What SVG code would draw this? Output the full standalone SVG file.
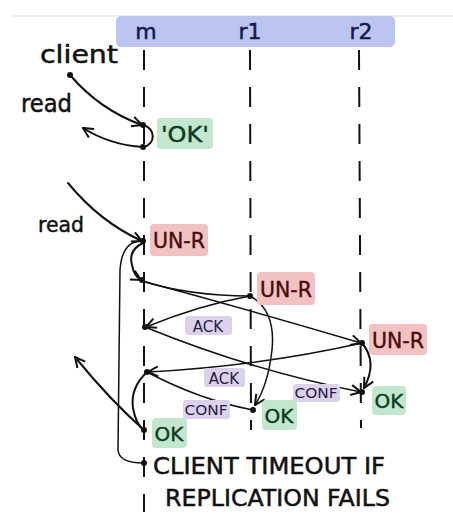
<svg xmlns="http://www.w3.org/2000/svg" width="453" height="524" viewBox="0 0 453 524">
<style>
.t{font-family:"DejaVu Sans","Liberation Sans",sans-serif;fill:#111;stroke:#111;stroke-width:0.5}
.lbl{font-family:"DejaVu Sans","Liberation Sans",sans-serif;text-anchor:middle}
.life{stroke:#111;stroke-width:2;stroke-dasharray:20 17;fill:none}
.c{fill:none;stroke:#111;stroke-width:2;stroke-linecap:round}
.thin{fill:none;stroke:#111;stroke-width:1.5;stroke-linecap:round}
.dot{fill:#111}
.g{fill:#c3e6cf}.gt{fill:#0c3b1e;stroke:#0c3b1e;stroke-width:0.4}
.r{fill:#f2c2c2}.rt{fill:#4a0b0b;stroke:#4a0b0b;stroke-width:0.4}
.p{fill:#dcd1ea}.pt{fill:#2a1c48}
</style>
<defs>
<marker id="ah" viewBox="0 0 12 12" refX="11" refY="6" markerWidth="12" markerHeight="12" markerUnits="userSpaceOnUse" orient="auto">
<path d="M1,1 L11,6 L1,11" fill="none" stroke="#111" stroke-width="2"/>
</marker>
</defs>
<line x1="13" y1="16" x2="453" y2="16" stroke="#ddd" stroke-width="1"/>
<g id="header">
<rect x="116" y="16" width="279" height="31" rx="5" fill="#bcc5ef"/>
<text class="lbl" x="146" y="39" font-size="22" fill="#141a50" stroke="#141a50" stroke-width="0.5">m</text>
<text class="lbl" x="250" y="39" font-size="22" fill="#141a50" stroke="#141a50" stroke-width="0.5">r1</text>
<text class="lbl" x="361" y="39" font-size="22" fill="#141a50" stroke="#141a50" stroke-width="0.5">r2</text>
</g>
<g id="lifelines">
<line class="life" x1="144" y1="50" x2="144" y2="512"/>
<line class="life" x1="250" y1="50" x2="251" y2="430"/>
<line class="life" x1="359" y1="50" x2="361" y2="428"/>
</g>
<g id="client"><text class="t" x="40" y="63" font-size="24" textLength="78" lengthAdjust="spacingAndGlyphs">client</text></g>
<g id="read1"><text class="t" x="21" y="112" font-size="24" textLength="51" lengthAdjust="spacingAndGlyphs">read</text></g>
<g id="read2"><text class="t" x="38" y="232" font-size="22" textLength="46" lengthAdjust="spacingAndGlyphs">read</text></g>
<g id="connectors">
<path class="c" d="M70,75 Q100,110 142,125" marker-end="url(#ah)"/>
<path class="c" d="M143,125 C156,128 156,145 143,147"/>
<path class="c" d="M143,147 Q110,145 83,128" marker-end="url(#ah)"/>
<path class="c" d="M68,183 Q100,222 142,241" marker-end="url(#ah)"/>
<path class="c" d="M143,243 Q128,250 132,265 Q134,276 141,280" marker-end="url(#ah)"/>
<path class="thin" d="M143,241 Q122,240 120,270 L118,450 Q119,463 143,463"/>
<path class="thin" d="M142,281 Q190,296 250,296"/>
<path class="thin" d="M142,281 Q250,310 361,343" marker-end="url(#ah)"/>
<path class="thin" d="M250,296 Q200,305 146,327" marker-end="url(#ah)"/>
<path class="thin" d="M250,296 Q276,310 272,350 Q268,385 255,405" marker-end="url(#ah)"/>
<path class="thin" d="M145,327 Q250,370 361,392" marker-end="url(#ah)"/>
<path class="thin" d="M362,343 Q260,366 148,372" marker-end="url(#ah)"/>
<path class="c" d="M362,343 Q378,362 364,388" marker-end="url(#ah)"/>
<path class="thin" d="M147,372 Q200,400 253,410"/>
<path class="c" d="M147,372 Q130,388 133,408 Q136,425 144,430"/>
<path class="c" d="M144,430 Q110,400 75,357" marker-end="url(#ah)"/>
<circle class="dot" cx="70" cy="75" r="3"/>
<circle class="dot" cx="143" cy="125" r="3"/>
<circle class="dot" cx="143" cy="147" r="3"/>
<circle class="dot" cx="143" cy="241" r="3"/>
<circle class="dot" cx="142" cy="280" r="3"/>
<circle class="dot" cx="250" cy="296" r="3"/>
<circle class="dot" cx="145" cy="327" r="3"/>
<circle class="dot" cx="362" cy="343" r="3"/>
<circle class="dot" cx="147" cy="372" r="3"/>
<circle class="dot" cx="253" cy="410" r="3"/>
<circle class="dot" cx="362" cy="392" r="3"/>
<circle class="dot" cx="144" cy="430" r="3"/>
<circle class="dot" cx="144" cy="463" r="3"/>
</g>
<g id="ok0"><rect class="g" x="157" y="118" width="56" height="31" rx="4"/><text class="lbl gt" x="185" y="142" font-size="22" textLength="48" lengthAdjust="spacingAndGlyphs">'OK'</text></g>
<g id="unr-m"><rect class="r" x="150" y="224" width="58" height="32" rx="4"/><text class="lbl rt" x="179" y="248" font-size="21" textLength="52" lengthAdjust="spacingAndGlyphs">UN-R</text></g>
<g id="unr-r1"><rect class="r" x="257" y="272" width="58" height="33" rx="4"/><text class="lbl rt" x="286" y="297" font-size="21" textLength="52" lengthAdjust="spacingAndGlyphs">UN-R</text></g>
<g id="unr-r2"><rect class="r" x="369" y="324" width="58" height="31" rx="4"/><text class="lbl rt" x="398" y="348" font-size="21" textLength="52" lengthAdjust="spacingAndGlyphs">UN-R</text></g>
<g id="ack1"><rect class="p" x="185" y="316" width="47" height="19" rx="3"/><text class="lbl pt" x="208" y="332" font-size="15">ACK</text></g>
<g id="ack2"><rect class="p" x="204" y="368" width="41" height="19" rx="3"/><text class="lbl pt" x="224" y="384" font-size="15">ACK</text></g>
<g id="conf1"><rect class="p" x="183" y="400" width="47" height="19" rx="3"/><text class="lbl pt" x="206" y="415" font-size="14" textLength="43" lengthAdjust="spacingAndGlyphs">CONF</text></g>
<g id="conf2"><rect class="p" x="293" y="384" width="47" height="18" rx="3"/><text class="lbl pt" x="316" y="398" font-size="14" textLength="43" lengthAdjust="spacingAndGlyphs">CONF</text></g>
<g id="ok-m"><rect class="g" x="152" y="418" width="35" height="30" rx="4"/><text class="lbl gt" x="169" y="441" font-size="20">OK</text></g>
<g id="ok-r1"><rect class="g" x="262" y="400" width="35" height="30" rx="4"/><text class="lbl gt" x="279" y="423" font-size="20">OK</text></g>
<g id="ok-r2"><rect class="g" x="372" y="386" width="34" height="29" rx="4"/><text class="lbl gt" x="389" y="408" font-size="20">OK</text></g>
<g id="timeout">
<text class="t" x="153" y="474" font-size="23" textLength="232" lengthAdjust="spacingAndGlyphs">CLIENT TIMEOUT IF</text>
<text class="t" x="165" y="506" font-size="23" textLength="225" lengthAdjust="spacingAndGlyphs">REPLICATION FAILS</text>
</g>
</svg>
